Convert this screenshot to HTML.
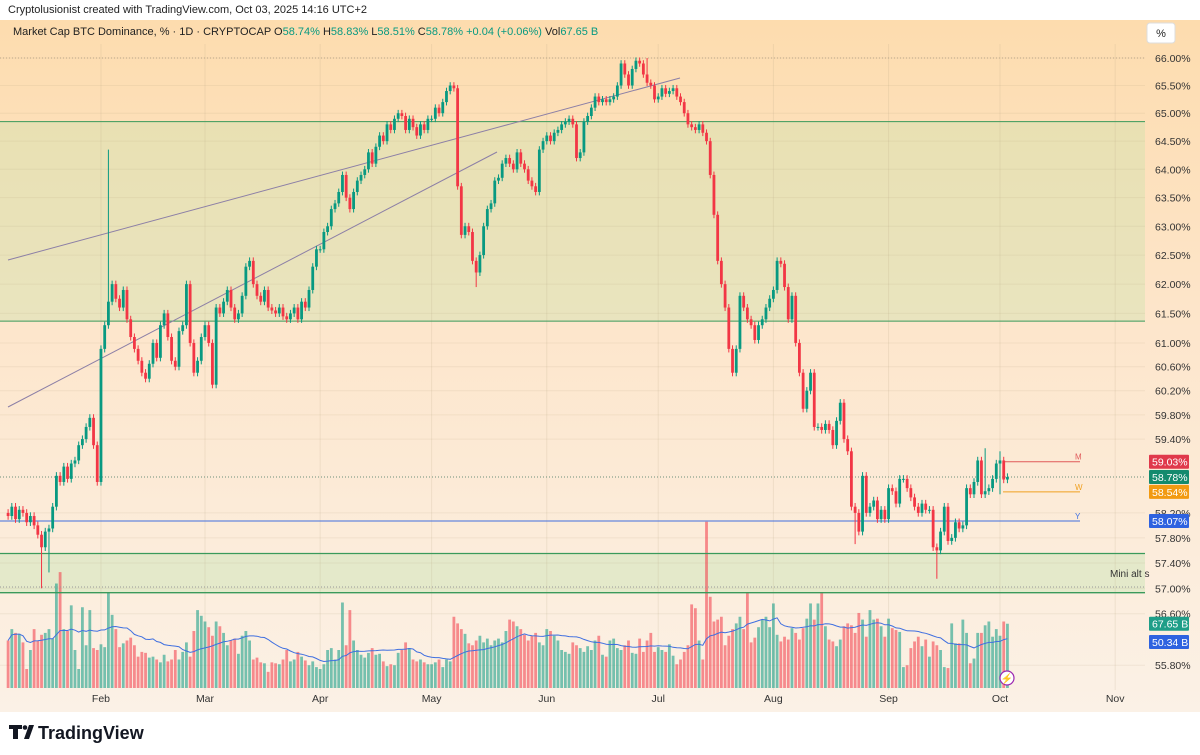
<!DOCTYPE html>
<html><head><meta charset="utf-8"><style>
html,body{margin:0;padding:0;background:#fff;width:1200px;height:755px;overflow:hidden;font-family:"Liberation Sans",sans-serif;}
svg text{font-family:"Liberation Sans",sans-serif;}
</style></head><body>
<svg id="chart" width="1200" height="755" viewBox="0 0 1200 755" xmlns="http://www.w3.org/2000/svg">
<defs>
<linearGradient id="bg" x1="0" y1="0" x2="0" y2="1">
<stop offset="0" stop-color="#fddcae"/><stop offset="0.45" stop-color="#fde6cc"/><stop offset="1" stop-color="#fbf1e6"/>
</linearGradient>
</defs>
<text x="8" y="13" font-size="11" fill="#222">Cryptolusionist created with TradingView.com, Oct 03, 2025 14:16 UTC+2</text>
<rect x="0" y="20" width="1200" height="692" fill="url(#bg)"/>
<g id="bands"></g>
<g id="grid"></g>
<g id="vol"></g>
<g id="lines"></g>
<g id="candles"></g>
<g id="axis"></g>
<text x="13" y="35" font-size="11" fill="#222">Market Cap BTC Dominance, % · 1D · CRYPTOCAP <tspan fill="#222">O</tspan><tspan fill="#089981">58.74%</tspan> <tspan fill="#222">H</tspan><tspan fill="#089981">58.83%</tspan> <tspan fill="#222">L</tspan><tspan fill="#089981">58.51%</tspan> <tspan fill="#222">C</tspan><tspan fill="#089981">58.78%</tspan> <tspan fill="#089981">+0.04 (+0.06%)</tspan> <tspan fill="#222">Vol</tspan><tspan fill="#089981">67.65 B</tspan></text>
<rect x="1147" y="23" width="28" height="20" rx="3" fill="#fff" stroke="#ddd"/>
<text x="1161" y="37" font-size="11" fill="#222" text-anchor="middle">%</text>
<rect x="0" y="712" width="1200" height="43" fill="#fff"/>
<g>
<path d="M9 725h13v4h-4v10h-5v-10h-4z M24 739l5-14h5l-5 14z" fill="#131722"/>
<circle cx="25" cy="727.5" r="2.3" fill="#131722"/>
<text x="38" y="739" font-size="18" font-weight="bold" fill="#131722">TradingView</text>
</g>
<g><circle cx="1007" cy="678" r="7" fill="#fff" stroke="#9c27b0" stroke-width="1.2"/><text x="1007" y="682" font-size="10" fill="#9c27b0" text-anchor="middle">⚡</text></g>
</svg>
<script>
const closes = [
58.15,58.30,58.10,58.25,58.20,58.05,58.15,58.00,57.85,57.65,57.90,57.95,58.30,58.80,58.70,58.95,58.75,59.00,59.05,59.30,59.40,59.60,59.75,59.30,58.70,
60.90,61.30,61.70,62.00,61.75,61.60,61.90,61.40,61.10,60.90,60.70,60.50,60.40,60.65,61.00,60.75,61.30,61.50,61.10,60.70,60.60,61.20,61.30,62.00,61.00,60.50,60.70,61.10,
61.30,61.00,60.30,61.60,61.50,61.70,61.90,61.60,61.40,61.50,61.80,62.30,62.40,62.00,61.80,61.70,61.90,61.60,61.55,61.50,61.60,61.45,61.40,61.50,61.60,61.40,61.70,61.60,61.90,62.30,62.60,
62.60,62.90,63.00,63.30,63.40,63.60,63.90,63.50,63.30,63.60,63.80,63.90,64.00,64.30,64.10,64.40,64.60,64.50,64.80,64.70,64.90,65.00,64.95,64.70,64.90,64.75,64.60,64.80,64.70,64.90,
64.90,65.10,65.00,65.20,65.40,65.50,65.45,63.70,62.85,63.00,62.90,62.40,62.20,62.50,63.00,63.30,63.40,63.80,63.85,64.10,64.20,64.10,64.00,64.30,64.10,64.00,63.80,63.70,63.60,64.35,64.50,
64.60,64.50,64.65,64.70,64.80,64.85,64.90,64.80,64.20,64.30,64.85,64.95,65.10,65.30,65.20,65.25,65.20,65.25,65.30,65.50,65.90,65.70,65.50,65.80,65.95,65.90,65.70,65.55,65.50,65.25,
65.30,65.45,65.35,65.40,65.45,65.30,65.20,65.00,64.80,64.75,64.70,64.80,64.65,64.50,63.90,63.20,62.40,62.00,61.60,60.90,60.50,60.90,61.80,61.60,61.40,61.30,61.05,61.30,61.40,61.60,61.75,
61.90,62.40,62.35,61.95,61.40,61.80,61.00,60.50,59.90,60.20,60.50,59.60,59.60,59.55,59.65,59.55,59.30,59.70,60.00,59.40,59.20,58.30,58.20,57.90,58.80,58.20,58.30,58.40,58.10,58.25,58.10,
58.60,58.55,58.35,58.75,58.75,58.60,58.45,58.30,58.20,58.35,58.25,58.25,57.65,57.60,57.90,58.30,57.75,57.80,58.05,57.95,58.00,58.60,58.50,58.70,59.05,58.50,58.55,58.60,58.75,59.00,
59.05,58.74,58.78];
const volumes = [
50,62,58,57,48,20,40,62,50,56,58,62,52,110,122,62,60,87,40,20,85,45,82,42,40,
46,43,100,77,62,43,47,50,53,45,33,38,37,32,33,30,27,35,28,30,40,30,38,48,33,60,82,76,
70,64,55,70,65,58,45,50,52,36,55,60,50,30,32,27,26,17,27,26,25,30,40,28,30,38,33,29,24,28,22,
20,25,40,42,30,40,90,45,82,50,40,35,32,37,42,35,36,28,23,25,24,37,40,48,42,30,28,30,27,25,
25,27,30,22,30,28,75,68,62,57,47,45,50,55,48,52,45,50,52,48,60,72,70,65,62,56,50,55,58,48,45,
62,60,55,50,40,38,36,48,45,42,38,44,40,50,55,35,33,50,52,42,40,45,50,37,36,52,38,50,58,38,
43,40,38,46,34,25,30,38,45,88,84,50,30,175,96,70,72,75,45,55,62,68,75,62,101,48,53,64,72,75,64,
89,56,49,54,51,63,58,51,63,73,89,72,89,101,65,51,49,44,51,65,68,66,58,79,72,54,82,72,73,65,54,
73,63,61,59,22,24,42,49,54,44,51,33,49,45,40,22,21,68,47,47,72,58,26,31,58,58,66,70,54,62,
55,70,67.65];
const firstOpen = 58.2;
const highOverrides = {27:64.35, 172:66.0, 263:59.25, 267:59.2};
const lowOverrides = {9:57.0, 11:57.25, 126:61.95, 228:57.7, 250:57.15, 267:58.5};
const priceTicks = ['66.00','65.50','65.00','64.50','64.00','63.50','63.00','62.50','62.00','61.50','61.00','60.60','60.20','59.80','59.40','58.20','57.80','57.40','57.00','56.60','55.80'];
const monthLabels = ['Feb','Mar','Apr','May','Jun','Jul','Aug','Sep','Oct','Nov'];
const monthIdx = [25,53,84,114,145,175,206,237,267,298];

const NS='http://www.w3.org/2000/svg';
function y(v){return 58+3617*Math.log(66/v);}
function x(i){return 8.1+3.715*i;}
function vy(b){return 688-b*0.95;}
function mk(tag,attrs,parent){const e=document.createElementNS(NS,tag);for(const k in attrs)e.setAttribute(k,attrs[k]);document.getElementById(parent).appendChild(e);return e;}
const G='#089981',R='#f23645';
let e=mk('rect',{x:0,y:y(64.85),width:1145,height:y(61.37)-y(64.85),fill:'rgba(200,225,170,0.38)'},'bands');


e=mk('rect',{x:0,y:y(57.55),width:1145,height:y(56.93)-y(57.55),fill:'rgba(200,228,180,0.45)'},'bands');


monthIdx.forEach((m,k)=>{const g=mk('line',{x1:x(m),x2:x(m),y1:44,y2:690,stroke:'rgba(180,160,130,0.18)'},'grid');

});
priceTicks.forEach(t=>{const g=mk('line',{x1:0,x2:1145,y1:y(+t),y2:y(+t),stroke:'rgba(180,160,130,0.15)'},'grid');

});
const opens=closes.map((c,i)=>i===0?firstOpen:closes[i-1]);
volumes.forEach((v,i)=>{const up=closes[i]>=opens[i];const b=mk('rect',{x:x(i)-1.4,y:vy(v),width:2.8,height:688-vy(v),fill:up?'rgba(8,153,129,0.55)':'rgba(242,54,69,0.55)'},'vol');

});
let pts=[];const P=20;
volumes.forEach((v,i)=>{const s=volumes.slice(Math.max(0,i-P+1),i+1);const m=s.reduce((a,b)=>a+b,0)/s.length;pts.push(x(i).toFixed(1)+','+vy(m).toFixed(1));});
e=mk('polyline',{points:pts.join(' '),fill:'none',stroke:'#3f6fe0','stroke-width':1},'vol');


function L(x1,y1,x2,y2,st,w,dash,name){const l=mk('line',{x1,y1,x2,y2,stroke:st,'stroke-width':w},'lines');if(dash)l.setAttribute('stroke-dasharray',dash);

return l;}
L(0,y(64.85),1145,y(64.85),'#3a9a5b',1,null,'resistance-line-upper');
L(0,y(61.37),1145,y(61.37),'#3a9a5b',1,null,'resistance-line-lower');
L(0,y(57.55),1145,y(57.55),'#3a9a5b',1.3,null,'mini-alt-upper-line');
L(0,y(56.93),1145,y(56.93),'#3a9a5b',1.3,null,'mini-alt-lower-line');
L(0,y(66),1145,y(66),'#b9a58a',1,'1,2','top-dotted-line');
L(0,y(57.02),1145,y(57.02),'#999',1,'1,2','dotted-57-line');
L(0,y(58.78),1145,y(58.78),'#6c8f7a',1,'1,2','last-price-line');
L(8,260,680,78,'#8c7fa6',1,null,'upper-trendline');
L(8,407,497,152,'#8c7fa6',1,null,'lower-trendline');
L(0,y(58.07),1080,y(58.07),'#3f6fe0',1,null,'yearly-open-line');
L(1003,y(59.03),1080,y(59.03),'#e05a5a',1,null,'monthly-open-line');
L(1003,y(58.54),1080,y(58.54),'#f0a020',1,null,'weekly-open-line');
[['M',59.03,'#e05a5a'],['W',58.54,'#f0a020'],['Y',58.07,'#3f6fe0']].forEach(a=>{const t=mk('text',{x:1075,y:y(a[1])-2,'font-size':8,fill:a[2]},'lines');t.textContent=a[0];

});
e=mk('text',{x:1110,y:577,'font-size':10,fill:'#333'},'lines');e.textContent='Mini alt s';


closes.forEach((c,i)=>{const o=opens[i];const up=c>=o;const col=up?G:R;
const hi=highOverrides[i]!==undefined?highOverrides[i]:Math.max(o,c)+0.06;
const lo=lowOverrides[i]!==undefined?lowOverrides[i]:Math.min(o,c)-0.06;
const w=mk('line',{x1:x(i),x2:x(i),y1:y(hi),y2:y(lo),stroke:col,'stroke-width':1},'candles');


const top=y(Math.max(o,c)),bot=y(Math.min(o,c));
const b=mk('rect',{x:x(i)-1.4,y:top,width:2.8,height:Math.max(1,bot-top),fill:col},'candles');

});
priceTicks.forEach(t=>{const a=mk('text',{x:1155,y:y(+t)+4,'font-size':10.5,fill:'#333'},'axis');a.textContent=t+'%';

});
function badge(txt,yy,col,name){const r=mk('rect',{x:1149,y:yy-7,width:40,height:14,fill:col,rx:1},'axis');


const t=mk('text',{x:1152,y:yy+4,'font-size':10.5,fill:'#fff'},'axis');t.textContent=txt;}
badge('59.03%',y(59.03),'#e0394b','monthly-price-badge');
badge('58.78%',y(58.78),'#138a6e','last-price-badge');
badge('58.54%',y(58.54),'#f29a12','weekly-price-badge');
badge('58.07%',y(58.07),'#2e62e0','yearly-price-badge');
badge('67.65 B',vy(volumes[volumes.length-1]),'#1f9e88','volume-badge');
badge('50.34 B',642,'#2e62e0','volume-ma-badge');
monthLabels.forEach((m,k)=>{const t=mk('text',{x:x(monthIdx[k]),y:702,'font-size':10.5,fill:'#333','text-anchor':'middle'},'axis');t.textContent=m;

});
</script>
</body></html>
